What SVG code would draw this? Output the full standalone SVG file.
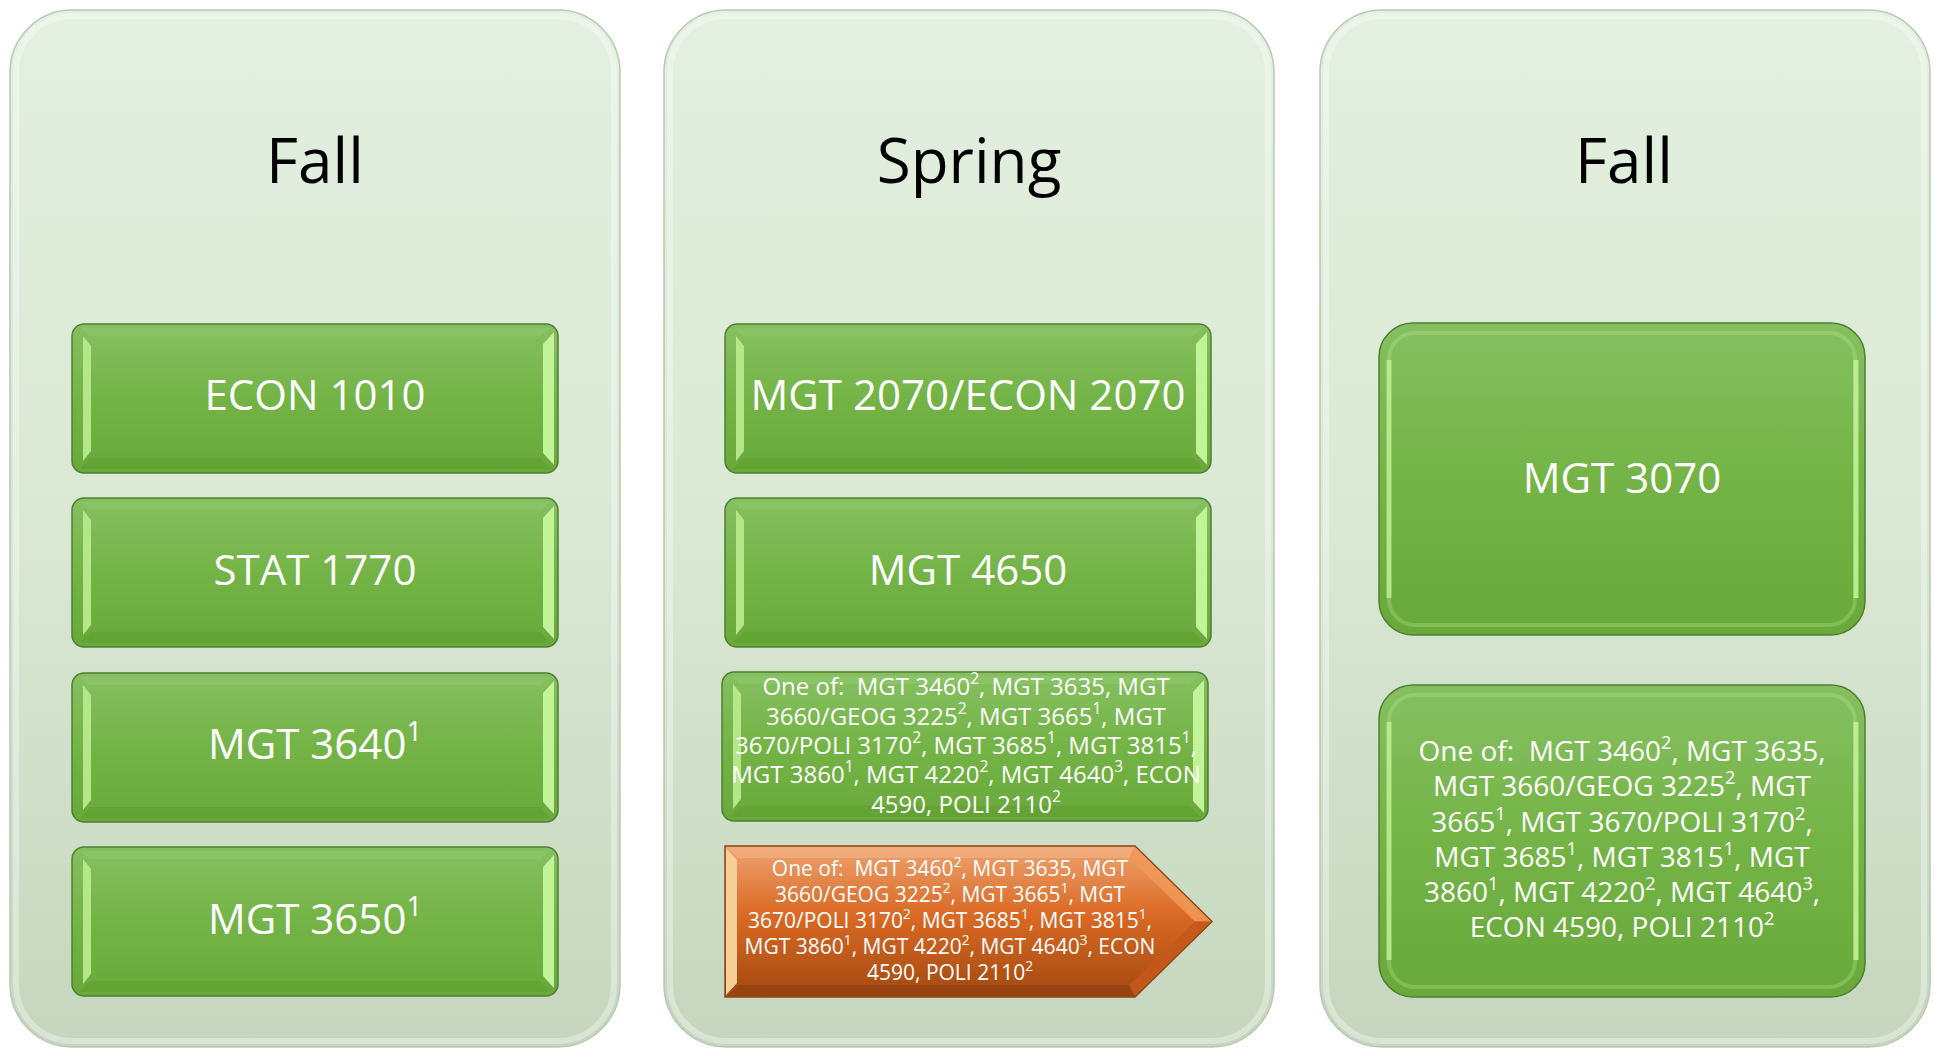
<svg xmlns="http://www.w3.org/2000/svg" width="1934" height="1048" viewBox="0 0 1934 1048">
<style>
.t{font-family:"Open Sans","Noto Sans","Liberation Sans",sans-serif;fill:#ffffff;text-anchor:middle}
.title{font-size:62px;fill:#000000}
.lbl{font-size:42px}
.s24{font-size:24px}
.s21{font-size:21px}
.s28{font-size:28px}
.sup{font-size:65%;baseline-shift:super}
.col{fill:url(#colBg);stroke:#b9c9b3;stroke-width:1.5}
.colIn{fill:none;stroke:#ffffff;stroke-opacity:.35;stroke-width:6}
</style>
<defs>
<linearGradient id="colBg" x1="0" y1="0" x2="0" y2="1">
<stop offset="0" stop-color="#e4f0e0"/>
<stop offset="0.5" stop-color="#dae8d4"/>
<stop offset="1" stop-color="#c6d6be"/>
</linearGradient>
<linearGradient id="gFill" x1="0" y1="0" x2="0" y2="1">
<stop offset="0" stop-color="#86bf61"/>
<stop offset="0.5" stop-color="#74b446"/>
<stop offset="1" stop-color="#69a83b"/>
</linearGradient>
<linearGradient id="oFill" x1="0" y1="0" x2="0" y2="1">
<stop offset="0" stop-color="#eea371"/>
<stop offset="0.45" stop-color="#da6a24"/>
<stop offset="1" stop-color="#a34910"/>
</linearGradient>
<g id="gbox">
<rect x="0" y="0" width="486" height="149" rx="12" fill="url(#gFill)" stroke="#4f7f31" stroke-width="1.5"/>
<polygon points="11,12 19,22 19,127 11,137" fill="#b5e68a"/>
<polygon points="482,8 471,20 471,129 482,141" fill="#c2f399"/>
<polygon points="8,4 478,4 468,12 18,12" fill="#8fc86c" opacity=".6"/>
<polygon points="8,145 478,145 468,134 18,134" fill="#62a032" opacity=".75"/>
</g>
</defs>

<g id="col1">
<rect class="col" x="10" y="10" width="610" height="1037" rx="62"/>
<rect class="colIn" x="16" y="16" width="598" height="1025" rx="56"/>
<text class="t title" x="315" y="183">Fall</text>
</g>
<g id="col2">
<rect class="col" x="664" y="10" width="610" height="1037" rx="62"/>
<rect class="colIn" x="670" y="16" width="598" height="1025" rx="56"/>
<text class="t title" x="969" y="183">Spring</text>
</g>
<g id="col3">
<rect class="col" x="1320" y="10" width="610" height="1037" rx="62"/>
<rect class="colIn" x="1326" y="16" width="598" height="1025" rx="56"/>
<text class="t title" x="1624" y="183">Fall</text>
</g>

<g id="econ1010">
<use href="#gbox" x="72" y="324"/>
<text class="t lbl" x="315" y="410">ECON 1010</text>
</g>
<g id="stat1770">
<use href="#gbox" x="72" y="498"/>
<text class="t lbl" x="315" y="585">STAT 1770</text>
</g>
<g id="mgt3640">
<use href="#gbox" x="72" y="673"/>
<text class="t lbl" x="315" y="759">MGT 3640<tspan class="sup">1</tspan></text>
</g>
<g id="mgt3650">
<use href="#gbox" x="72" y="847"/>
<text class="t lbl" x="315" y="934">MGT 3650<tspan class="sup">1</tspan></text>
</g>

<g id="mgt2070">
<use href="#gbox" x="725" y="324"/>
<text class="t lbl" x="968" y="410">MGT 2070/ECON 2070</text>
</g>
<g id="mgt4650">
<use href="#gbox" x="725" y="498"/>
<text class="t lbl" x="968" y="585">MGT 4650</text>
</g>
<g id="oneof-spring">
<use href="#gbox" x="722" y="672"/>
<text class="t s24" xml:space="preserve"><tspan x="966" y="695">One of:  MGT 3460<tspan class="sup">2</tspan>, MGT 3635, MGT</tspan><tspan x="966" y="725">3660/GEOG 3225<tspan class="sup">2</tspan>, MGT 3665<tspan class="sup">1</tspan>, MGT</tspan><tspan x="966" y="754">3670/POLI 3170<tspan class="sup">2</tspan>, MGT 3685<tspan class="sup">1</tspan>, MGT 3815<tspan class="sup">1</tspan>,</tspan><tspan x="966" y="783">MGT 3860<tspan class="sup">1</tspan>, MGT 4220<tspan class="sup">2</tspan>, MGT 4640<tspan class="sup">3</tspan>, ECON</tspan><tspan x="966" y="813">4590, POLI 2110<tspan class="sup">2</tspan></tspan></text>
</g>
<g id="oneof-arrow">
<polygon points="725,846 1135,846 1212,921.5 1135,997 725,997" fill="url(#oFill)" stroke="#8a4518" stroke-width="1.5"/>
<polygon points="726,848 737,860 737,983 726,995" fill="#f9cf98"/>
<polygon points="727,847 1134,847 1129,858 738,858" fill="#f2b183" opacity=".7"/>
<polygon points="1135,847 1211,921.5 1195,921.5 1129,858" fill="#f09a58" opacity=".85"/>
<polygon points="1211,921.5 1135,996 1129,985 1195,921.5" fill="#c4581a" opacity=".85"/>
<polygon points="727,996 738,985 1129,985 1134,996" fill="#924010" opacity=".7"/>
<text class="t s21" xml:space="preserve"><tspan x="950" y="876">One of:  MGT 3460<tspan class="sup">2</tspan>, MGT 3635, MGT</tspan><tspan x="950" y="902">3660/GEOG 3225<tspan class="sup">2</tspan>, MGT 3665<tspan class="sup">1</tspan>, MGT</tspan><tspan x="950" y="928">3670/POLI 3170<tspan class="sup">2</tspan>, MGT 3685<tspan class="sup">1</tspan>, MGT 3815<tspan class="sup">1</tspan>,</tspan><tspan x="950" y="954">MGT 3860<tspan class="sup">1</tspan>, MGT 4220<tspan class="sup">2</tspan>, MGT 4640<tspan class="sup">3</tspan>, ECON</tspan><tspan x="950" y="980">4590, POLI 2110<tspan class="sup">2</tspan></tspan></text>
</g>

<g id="mgt3070">
<rect x="1379" y="323" width="486" height="312" rx="34" fill="url(#gFill)" stroke="#4f7f31" stroke-width="1.5"/>
<rect x="1389" y="333" width="466" height="292" rx="26" fill="none" stroke="#b9ec8e" stroke-width="4" stroke-opacity=".3"/>
<path d="M1389,360 L1389,598" stroke="#c4f49b" stroke-width="5" opacity=".75"/>
<path d="M1856,360 L1856,598" stroke="#c4f49b" stroke-width="5" opacity=".85"/>
<text class="t lbl" x="1622" y="493">MGT 3070</text>
</g>
<g id="oneof-fall">
<rect x="1379" y="685" width="486" height="312" rx="34" fill="url(#gFill)" stroke="#4f7f31" stroke-width="1.5"/>
<rect x="1389" y="695" width="466" height="292" rx="26" fill="none" stroke="#b9ec8e" stroke-width="4" stroke-opacity=".3"/>
<path d="M1389,722 L1389,960" stroke="#c4f49b" stroke-width="5" opacity=".75"/>
<path d="M1856,722 L1856,960" stroke="#c4f49b" stroke-width="5" opacity=".85"/>
<text class="t s28" xml:space="preserve"><tspan x="1622" y="761">One of:  MGT 3460<tspan class="sup">2</tspan>, MGT 3635,</tspan><tspan x="1622" y="796">MGT 3660/GEOG 3225<tspan class="sup">2</tspan>, MGT</tspan><tspan x="1622" y="832">3665<tspan class="sup">1</tspan>, MGT 3670/POLI 3170<tspan class="sup">2</tspan>,</tspan><tspan x="1622" y="867">MGT 3685<tspan class="sup">1</tspan>, MGT 3815<tspan class="sup">1</tspan>, MGT</tspan><tspan x="1622" y="902">3860<tspan class="sup">1</tspan>, MGT 4220<tspan class="sup">2</tspan>, MGT 4640<tspan class="sup">3</tspan>,</tspan><tspan x="1622" y="937">ECON 4590, POLI 2110<tspan class="sup">2</tspan></tspan></text>
</g>

<g id="connectors"></g>
</svg>
